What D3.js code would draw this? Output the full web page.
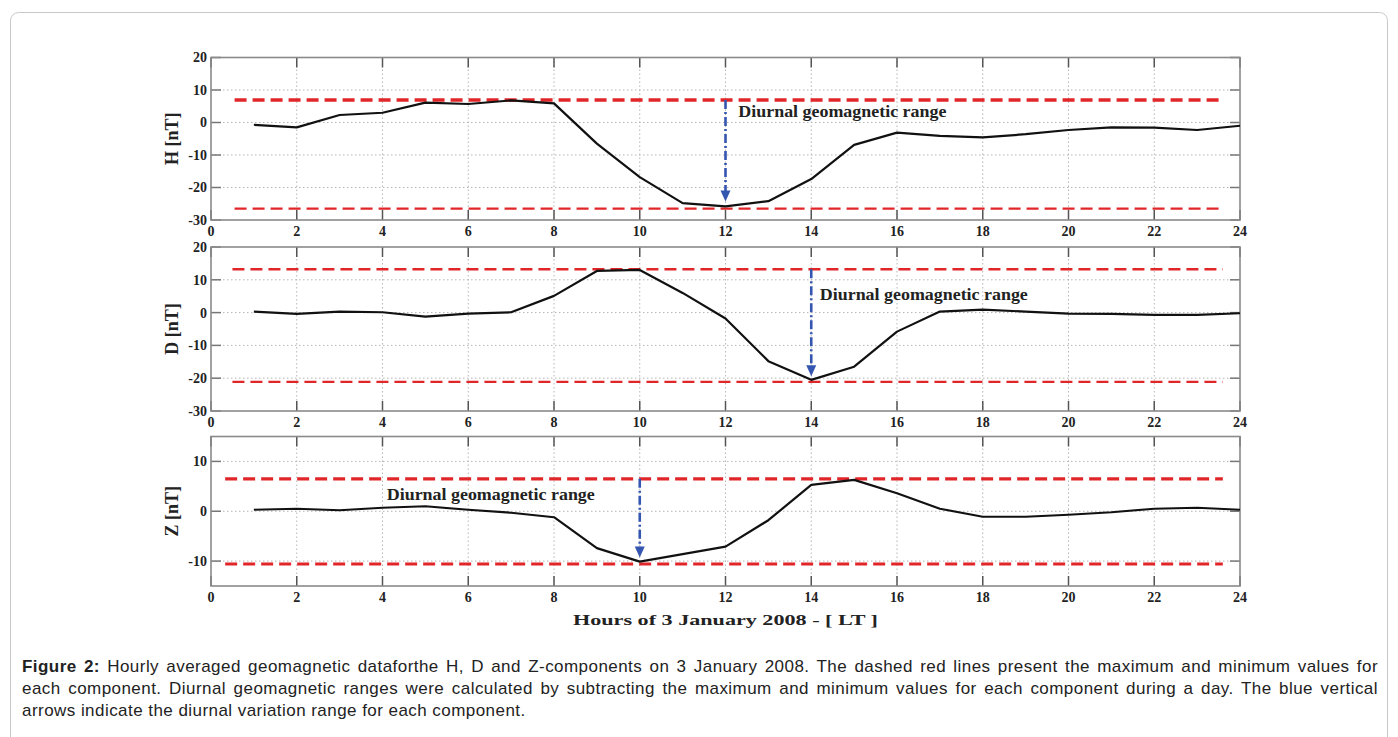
<!DOCTYPE html>
<html>
<head>
<meta charset="utf-8">
<script src="https://cdn.jsdelivr.net/npm/d3@7"></script>
<style>
  body { margin: 0; background: #fff; }
  svg { display: block; }
</style>
</head>
<body>
<svg id="vis" width="1398" height="737"></svg>
<script>
// hourly means, 3 January 2008
const hours   = [1, 2, 3, 4, 5, 6, 7, 8, 9, 10, 11, 12, 13, 14, 15, 16, 17, 18, 19, 20, 21, 22, 23, 24];
const hValues = [-0.7, -1.5, 2.3, 3.0, 6.1, 5.7, 6.8, 5.9, -6.5, -16.8, -24.8, -25.8, -24.2, -17.4, -6.9, -3.1, -4.1, -4.6, -3.6, -2.3, -1.5, -1.6, -2.3, -1.0];
const dValues = [0.3, -0.4, 0.3, 0.1, -1.2, -0.3, 0.1, 5.1, 12.7, 13.0, 6.0, -1.8, -14.8, -20.5, -16.5, -5.8, 0.3, 0.9, 0.3, -0.3, -0.4, -0.7, -0.7, -0.2];
const zValues = [0.3, 0.5, 0.2, 0.7, 1.0, 0.3, -0.3, -1.2, -7.4, -10.1, -8.6, -7.1, -1.8, 5.3, 6.3, 3.6, 0.5, -1.1, -1.1, -0.7, -0.2, 0.5, 0.7, 0.3];

// daily max / min (dashed red lines)
const hLimits = [6.9, -26.5];
const dLimits = [13.2, -21.1];
const zLimits = [6.5, -10.6];

// blue arrows: hour and value of the tip
const arrowHours = [12, 14, 10];
const arrowTips  = [-24.3, -19.4, -9.3];

const xTicks  = [0, 2, 4, 6, 8, 10, 12, 14, 16, 18, 20, 22, 24];
const hdTicks = [-30, -20, -10, 0, 10, 20];
const zTicks  = [-10, 0, 10];
const yLabels = ["H [nT]", "D [nT]", "Z [nT]"];

const noteText = "Diurnal geomagnetic range";
const xTitle = "Hours of 3 January 2008 - [ LT ]";
const captionBold = "Figure 2:";
const captionLines = [
  " Hourly averaged geomagnetic dataforthe H, D and Z-components on 3 January 2008. The dashed red lines present the maximum and minimum values for",
  "each component. Diurnal geomagnetic ranges were calculated by subtracting the maximum and minimum values for each component during a day. The blue vertical",
  "arrows indicate the diurnal variation range for each component."
];

const svg = d3.select("#vis");
const serif = "'Liberation Serif', 'DejaVu Serif', serif";

// outer frame of the figure
svg.append("rect")
  .attr("x", 10.5).attr("y", 12.5)
  .attr("width", 1377).attr("height", 760)
  .attr("rx", 8)
  .attr("fill", "none")
  .attr("stroke", "#c8c8c8");

const x = d3.scaleLinear().domain([0, 24]).range([211, 1240]);

const panels = [
  { values: hValues, limits: hLimits, ticks: hdTicks, domain: [-30, 20], top: 57.5, bottom: 220,
    dashFrom: 0.55, dashTo: 23.6, dashW: [3.5, 2.2], note: [12.3, 3.4] },
  { values: dValues, limits: dLimits, ticks: hdTicks, domain: [-30, 20], top: 247, bottom: 411,
    dashFrom: 0.5, dashTo: 23.6, dashW: [2.6, 2.2], note: [14.2, 5.6] },
  { values: zValues, limits: zLimits, ticks: zTicks, domain: [-15, 15], top: 436.5, bottom: 586,
    dashFrom: 0.33, dashTo: 23.6, dashW: [3.2, 3.0], note: [4.1, 3.4] }
];

panels.forEach((p, i) => {
  const y = d3.scaleLinear().domain(p.domain).range([p.bottom, p.top]);
  const g = svg.append("g");

  // dotted grid
  g.selectAll(".vg").data(xTicks.slice(1, -1)).join("line")
    .attr("x1", d => x(d)).attr("x2", d => x(d))
    .attr("y1", p.top).attr("y2", p.bottom)
    .attr("stroke", "#b5b5b5").attr("stroke-width", 1)
    .attr("stroke-dasharray", "1.5,2.5");
  g.selectAll(".hg").data(p.ticks.filter(t => t > p.domain[0] && t < p.domain[1])).join("line")
    .attr("x1", x(0)).attr("x2", x(24))
    .attr("y1", d => y(d)).attr("y2", d => y(d))
    .attr("stroke", "#b5b5b5").attr("stroke-width", 1)
    .attr("stroke-dasharray", "1.5,2.5");

  // inward tick marks on all four sides
  g.selectAll(".tt").data(xTicks).join("line")
    .attr("x1", d => x(d)).attr("x2", d => x(d))
    .attr("y1", p.top).attr("y2", p.top + 10)
    .attr("stroke", "#555").attr("stroke-width", 1.5);
  g.selectAll(".tb").data(xTicks).join("line")
    .attr("x1", d => x(d)).attr("x2", d => x(d))
    .attr("y1", p.bottom).attr("y2", p.bottom - 10)
    .attr("stroke", "#555").attr("stroke-width", 1.5);
  g.selectAll(".tl").data(p.ticks).join("line")
    .attr("x1", x(0)).attr("x2", x(0) + 10)
    .attr("y1", d => y(d)).attr("y2", d => y(d))
    .attr("stroke", "#777").attr("stroke-width", 1.5);
  g.selectAll(".tr").data(p.ticks).join("line")
    .attr("x1", x(24)).attr("x2", x(24) - 10)
    .attr("y1", d => y(d)).attr("y2", d => y(d))
    .attr("stroke", "#777").attr("stroke-width", 1.5);

  // frame
  g.append("rect")
    .attr("x", x(0)).attr("y", p.top)
    .attr("width", x(24) - x(0)).attr("height", p.bottom - p.top)
    .attr("fill", "none").attr("stroke", "#8a8a8a").attr("stroke-width", 1.6);

  // tick labels
  g.selectAll(".yl").data(p.ticks).join("text")
    .attr("x", x(0) - 4).attr("y", d => y(d))
    .attr("dy", "0.35em")
    .attr("text-anchor", "end")
    .style("font-family", serif).style("font-weight", "bold").style("font-size", "14px")
    .attr("fill", "#222")
    .text(d => d);
  g.selectAll(".xl").data(xTicks).join("text")
    .attr("x", d => x(d)).attr("y", p.bottom + 11)
    .attr("dy", "0.35em")
    .attr("text-anchor", "middle")
    .style("font-family", serif).style("font-weight", "bold").style("font-size", "14px")
    .attr("fill", "#222")
    .text(d => d);

  // y label
  g.append("text")
    .attr("transform", `translate(178,${(p.top + p.bottom) / 2}) rotate(-90)`)
    .attr("text-anchor", "middle")
    .style("font-family", serif).style("font-weight", "bold").style("font-size", "18px")
    .attr("fill", "#222")
    .text(yLabels[i]);

  // max / min dashed lines
  g.selectAll(".lim").data(p.limits).join("line")
    .attr("x1", x(p.dashFrom)).attr("x2", x(p.dashTo))
    .attr("y1", d => y(d)).attr("y2", d => y(d))
    .attr("stroke", "#e1262a")
    .attr("stroke-width", (d, k) => p.dashW[k])
    .attr("stroke-dasharray", "12,6");

  // data line
  g.append("path")
    .datum(p.values)
    .attr("d", d3.line().x((d, k) => x(hours[k])).y(d => y(d)))
    .attr("fill", "none")
    .attr("stroke", "#111")
    .attr("stroke-width", 2.2)
    .attr("stroke-linejoin", "round");

  // blue dash-dot arrow
  const ax = x(arrowHours[i]);
  const ay0 = y(p.limits[0]);
  const ay1 = y(arrowTips[i]);
  g.append("line")
    .attr("x1", ax).attr("x2", ax)
    .attr("y1", ay0).attr("y2", ay1 - 9)
    .attr("stroke", "#3556b0").attr("stroke-width", 2.6)
    .attr("stroke-dasharray", "9,3,2,3");
  g.append("path")
    .attr("d", `M${ax - 5},${ay1 - 11} L${ax + 5},${ay1 - 11} L${ax},${ay1} Z`)
    .attr("fill", "#3556b0");

  // annotation
  g.append("text")
    .attr("x", x(p.note[0])).attr("y", y(p.note[1]))
    .attr("dy", "0.35em")
    .attr("textLength", 208).attr("lengthAdjust", "spacingAndGlyphs")
    .style("font-family", serif).style("font-weight", "bold").style("font-size", "16px")
    .attr("fill", "#222")
    .text(noteText);
});

// x axis title
svg.append("text")
  .attr("x", x(12)).attr("y", 620)
  .attr("dy", "0.35em")
  .attr("text-anchor", "middle")
  .attr("textLength", 305).attr("lengthAdjust", "spacingAndGlyphs")
  .style("font-family", serif).style("font-weight", "bold").style("font-size", "15px")
  .attr("fill", "#222")
  .text(xTitle);

// caption, justified like the journal page
const capLeft = 22, capRight = 1378;
captionLines.forEach((line, k) => {
  const t = svg.append("text")
    .attr("x", capLeft).attr("y", 672 + k * 22)
    .style("font-family", "'Liberation Sans', Arial, sans-serif")
    .style("font-size", "17px")
    .style("letter-spacing", "0.45px")
    .attr("fill", "#222");
  if (k === 0) t.append("tspan").style("font-weight", "bold").text(captionBold);
  t.append("tspan").text(line);
  if (k < captionLines.length - 1) {
    const full = (k === 0 ? captionBold : "") + line;
    const spaces = (full.match(/ /g) || []).length;
    const extra = (capRight - capLeft) - t.node().getComputedTextLength();
    t.style("word-spacing", (extra / spaces) + "px");
  }
});
</script>
</body>
</html>
